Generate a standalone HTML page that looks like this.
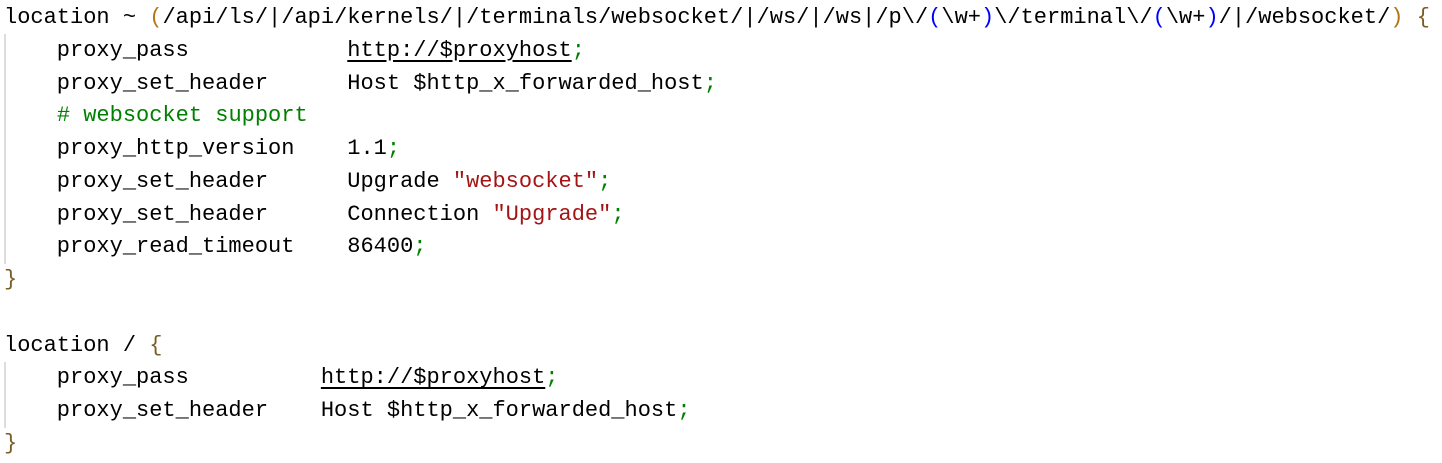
<!DOCTYPE html>
<html><head><style>
body{margin:0;background:#fff;width:1442px;height:463px;overflow:hidden}
pre{margin:0;padding:2px 0 0 4px;font-family:"Liberation Mono",monospace;font-size:22px;line-height:32.75px;color:#000;position:relative}
.g{color:#008000}.b{color:#795e26}.s{color:#a31515}.p{color:#0000ff}.o{color:#b5741a}
.u{text-decoration:underline;text-underline-offset:4px}
.guide{position:absolute;left:4px;width:2px;background:#ddd}
</style></head><body>
<div class="guide" style="top:34px;height:230px"></div>
<div class="guide" style="top:362px;height:66px"></div>
<pre>location ~ <span class="o">(</span>/api/ls/|/api/kernels/|/terminals/websocket/|/ws/|/ws|/p\/<span class="p">(</span>\w+<span class="p">)</span>\/terminal\/<span class="p">(</span>\w+<span class="p">)</span>/|/websocket/<span class="o">)</span> <span class="b">{</span>
    proxy_pass            <span class="u">http://$proxyhost</span><span class="g">;</span>
    proxy_set_header      Host $http_x_forwarded_host<span class="g">;</span>
    <span class="g"># websocket support</span>
    proxy_http_version    1.1<span class="g">;</span>
    proxy_set_header      Upgrade <span class="s">"websocket"</span><span class="g">;</span>
    proxy_set_header      Connection <span class="s">"Upgrade"</span><span class="g">;</span>
    proxy_read_timeout    86400<span class="g">;</span>
<span class="b">}</span>

location / <span class="b">{</span>
    proxy_pass          <span class="u">http://$proxyhost</span><span class="g">;</span>
    proxy_set_header    Host $http_x_forwarded_host<span class="g">;</span>
<span class="b">}</span></pre>
</body></html>
